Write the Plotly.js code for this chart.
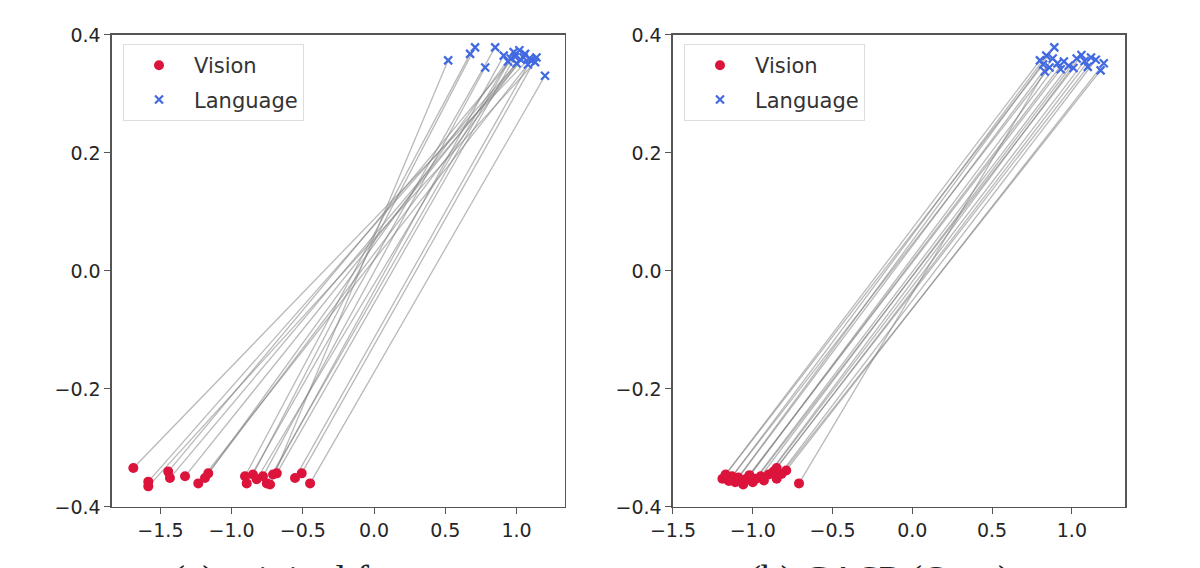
<!DOCTYPE html>
<html>
<head>
<meta charset="utf-8">
<script src="https://cdn.plot.ly/plotly-3.0.1.min.js"></script>
<style>
  html, body { margin: 0; padding: 0; background: #fff; }
  #chart { width: 1200px; height: 568px; }
</style>
</head>
<body>
<div id="chart"></div>
<script>
// (a) original features: vision point i is paired with language point i
var origVisionX = [-1.69, -1.585, -1.585, -1.445, -1.433, -1.327, -1.234, -1.187, -1.164,
  -0.906, -0.894, -0.85, -0.824, -0.78, -0.753, -0.73, -0.709, -0.683, -0.555, -0.508, -0.449];
var origVisionY = [-0.334, -0.357, -0.365, -0.340, -0.351, -0.348, -0.360, -0.351, -0.343,
  -0.348, -0.360, -0.345, -0.353, -0.348, -0.360, -0.362, -0.345, -0.343, -0.351, -0.343, -0.360];
var origLangX = [1.09, 1.06, 1.13, 1.02, 1.05, 1.00, 1.08, 0.98, 1.03,
  0.674, 0.85, 0.709, 0.94, 0.78, 0.96, 0.52, 0.91, 0.99, 1.10, 1.14, 1.20];
var origLangY = [0.360, 0.368, 0.354, 0.374, 0.362, 0.352, 0.350, 0.371, 0.358,
  0.368, 0.379, 0.379, 0.355, 0.345, 0.360, 0.357, 0.365, 0.363, 0.357, 0.362, 0.331];

// (b) CASP (Ours)
var caspVisionX = [-1.19, -1.17, -1.15, -1.13, -1.11, -1.09, -1.06, -1.04, -1.02, -1.00,
  -0.98, -0.95, -0.93, -0.90, -0.87, -0.85, -0.85, -0.82, -0.79, -0.71];
var caspVisionY = [-0.352, -0.345, -0.356, -0.348, -0.358, -0.350, -0.362, -0.352, -0.346, -0.358,
  -0.352, -0.348, -0.355, -0.345, -0.340, -0.334, -0.352, -0.344, -0.338, -0.360];
var caspLangX = [0.80, 0.82, 0.84, 0.86, 0.88, 0.89, 0.91, 0.93, 0.95, 0.98,
  1.01, 1.03, 1.06, 1.08, 1.10, 1.12, 1.15, 1.18, 1.20, 0.83];
var caspLangY = [0.357, 0.350, 0.365, 0.345, 0.360, 0.379, 0.352, 0.342, 0.355, 0.348,
  0.344, 0.360, 0.366, 0.356, 0.346, 0.362, 0.358, 0.340, 0.352, 0.338];

var captions = ['(a) original features', '(b) CASP (Ours)'];

var RED = '#DC143C';
var BLUE = '#4169E1';

// join each vision point to its language point, null between pairs
function pairLines(vx, vy, lx, ly) {
  var xs = [], ys = [];
  for (var i = 0; i < vx.length; i++) {
    xs.push(vx[i], lx[i], null);
    ys.push(vy[i], ly[i], null);
  }
  return {x: xs, y: ys};
}

function panel(vx, vy, lx, ly, xa, ya, leg) {
  var l = pairLines(vx, vy, lx, ly);
  return [
    {x: l.x, y: l.y, xaxis: xa, yaxis: ya, mode: 'lines', type: 'scatter',
     line: {color: 'rgba(128,128,128,0.55)', width: 1.3}, showlegend: false, hoverinfo: 'skip'},
    {x: vx, y: vy, xaxis: xa, yaxis: ya, mode: 'markers', type: 'scatter', name: 'Vision',
     legend: leg, legendgroup: leg + 'v',
     marker: {color: RED, size: 10, symbol: 'circle'}},
    {x: lx, y: ly, xaxis: xa, yaxis: ya, mode: 'markers', type: 'scatter', name: 'Language',
     legend: leg, legendgroup: leg + 'l',
     marker: {symbol: 'x-thin', size: 8, color: BLUE, line: {color: BLUE, width: 2.2}}}
  ];
}

var data = panel(origVisionX, origVisionY, origLangX, origLangY, 'x', 'y', 'legend')
  .concat(panel(caspVisionX, caspVisionY, caspLangX, caspLangY, 'x2', 'y2', 'legend2'));

var tickFont = {family: 'DejaVu Sans', size: 19, color: '#262626'};

function xAxis(domain, range, anchor) {
  return {domain: domain, range: range, anchor: anchor, dtick: 0.5, tick0: 0, tickformat: '.1f',
    showgrid: false, zeroline: false, showline: true, mirror: true, linecolor: '#555', linewidth: 1.5,
    ticks: 'outside', ticklen: 6, tickcolor: '#555', tickfont: tickFont};
}
function yAxis(anchor) {
  return {domain: [0.1074, 0.9384], range: [-0.4, 0.4], anchor: anchor, dtick: 0.2, tick0: 0,
    tickformat: '.1f', showgrid: false, zeroline: false, showline: true, mirror: true,
    linecolor: '#555', linewidth: 1.5, ticks: 'outside', ticklen: 6, tickcolor: '#555', tickfont: tickFont};
}

function legendBox(x) {
  return {x: x, y: 0.9225, xanchor: 'left', yanchor: 'top', bgcolor: '#fff',
    bordercolor: '#dddddd', borderwidth: 1, itemwidth: 60, traceorder: 'grouped', tracegroupgap: 4,
    font: {family: 'DejaVu Sans', size: 21, color: '#333'}};
}

var capY = (568 - 556) / 568;

var layout = {
  width: 1200, height: 568,
  margin: {l: 0, r: 0, t: 0, b: 0},
  paper_bgcolor: '#fff', plot_bgcolor: '#fff',
  xaxis: xAxis([0.0933, 0.4708], [-1.84, 1.34], 'y'),
  yaxis: yAxis('x'),
  xaxis2: xAxis([0.5608, 0.9375], [-1.5, 1.333], 'y2'),
  yaxis2: yAxis('x2'),
  legend: legendBox(0.1025),
  legend2: legendBox(0.57),
  annotations: [
    {text: captions[0], xref: 'paper', yref: 'paper', x: 326 / 1200, y: capY,
     xanchor: 'center', yanchor: 'top', showarrow: false,
     font: {family: 'Liberation Serif', size: 39, color: '#222'}},
    {text: captions[1], xref: 'paper', yref: 'paper', x: 880 / 1200, y: capY,
     xanchor: 'center', yanchor: 'top', showarrow: false,
     font: {family: 'Liberation Serif', size: 39, color: '#222'}}
  ]
};

Plotly.newPlot('chart', data, layout, {displayModeBar: false, staticPlot: true});
</script>
</body>
</html>
